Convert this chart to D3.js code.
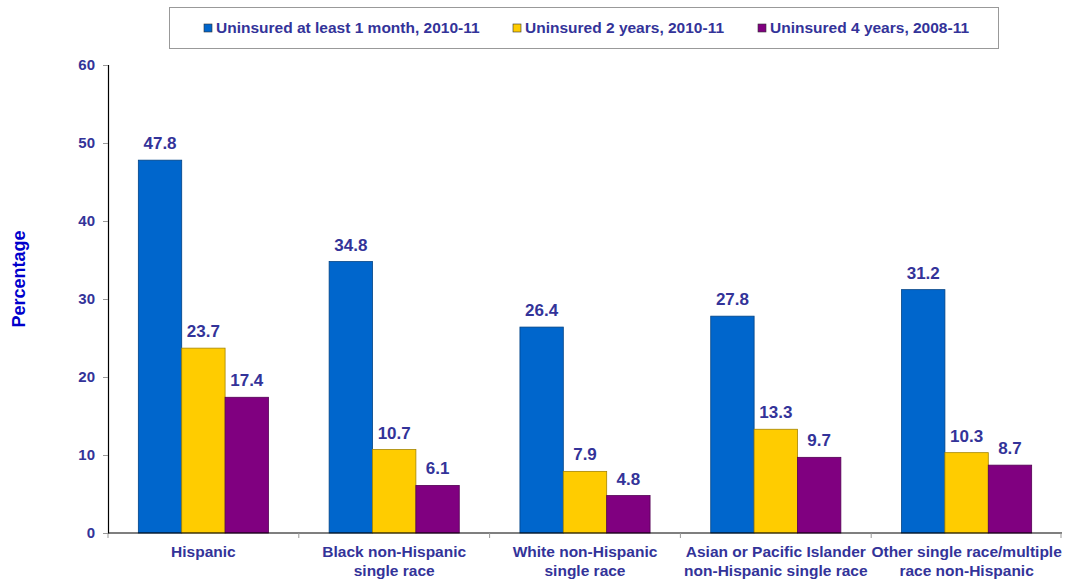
<!DOCTYPE html>
<html>
<head>
<meta charset="utf-8">
<script src="https://cdn.jsdelivr.net/npm/d3@7"></script>
<style>
  body { margin: 0; background: #fff; }
  svg { display: block; font-family: "Liberation Sans", Arial, sans-serif; font-weight: bold; }
</style>
</head>
<body>
<div id="chart"></div>
<script>
const categories = [
    ['Hispanic'],
    ['Black non-Hispanic', 'single race'],
    ['White non-Hispanic', 'single race'],
    ['Asian or Pacific Islander', 'non-Hispanic single race'],
    ['Other single race/multiple', 'race non-Hispanic']
]
const seriesNames = ['Uninsured at least 1 month, 2010-11', 'Uninsured 2 years, 2010-11', 'Uninsured 4 years, 2008-11']
const seriesColors = ['#0066CC', '#FFCC00', '#800080']
const month1 = [47.8, 34.8, 26.4, 27.8, 31.2]
const years2 = [23.7, 10.7, 7.9, 13.3, 10.3]
const years4 = [17.4, 6.1, 4.8, 9.7, 8.7]
const yTicks = [0, 10, 20, 30, 40, 50, 60]

const width = 1068, height = 579
const margin = {top: 65, right: 6, bottom: 46, left: 108}
const textColor = '#333399'

const svg = d3.select('#chart').append('svg')
    .attr('width', width)
    .attr('height', height)

const x = d3.scaleBand()
    .domain(d3.range(categories.length))
    .range([margin.left, width - margin.right])
    .paddingInner(0.318)
    .paddingOuter(0.159)

const step = x.step()
const xSub = d3.scaleBand()
    .domain(d3.range(seriesNames.length))
    .range([0, x.bandwidth()])

const y = d3.scaleLinear()
    .domain([0, 60])
    .range([height - margin.bottom, margin.top])

const series = [month1, years2, years4]

//-------------------------------------------------------------
// bars
const groups = svg.selectAll('g.group')
    .data(categories)
    .enter()
        .append('g')
        .attr('class', 'group')
        .attr('transform', (d, i) => `translate(${x(i)},0)`)

series.forEach((vals, s) => {
    groups.append('rect')
        .attr('x', xSub(s))
        .attr('y', (d, i) => y(vals[i]))
        .attr('width', xSub.bandwidth())
        .attr('height', (d, i) => y(0) - y(vals[i]))
        .style('fill', seriesColors[s])
        .style('stroke', d3.rgb(seriesColors[s]).darker(1.2))
        .style('stroke-width', 0.8)

    groups.append('text')
        .attr('x', xSub(s) + xSub.bandwidth() / 2)
        .attr('y', (d, i) => y(vals[i]) - 11)
        .attr('text-anchor', 'middle')
        .style('fill', textColor)
        .style('font-size', '17px')
        .text((d, i) => vals[i].toFixed(1))
})

//-------------------------------------------------------------
// axes
const yAxis = svg.append('g')
    .attr('transform', `translate(${margin.left},0)`)
    .call(d3.axisLeft(y).tickValues(yTicks).tickSize(5).tickPadding(8))
yAxis.select('.domain').attr('stroke', '#000').attr('stroke-width', 1.2)
yAxis.selectAll('.tick line').attr('stroke', '#999')
yAxis.selectAll('.tick text')
    .style('fill', textColor)
    .style('font-size', '15px')
    .style('font-family', '"Liberation Sans", Arial, sans-serif')
    .style('font-weight', 'bold')

const xAxis = svg.append('g')
    .attr('transform', `translate(0,${y(0)})`)
xAxis.append('line')
    .attr('x1', margin.left)
    .attr('x2', width - margin.right)
    .attr('stroke', '#000')
    .attr('stroke-width', 1.2)
xAxis.selectAll('line.sep')
    .data(d3.range(categories.length + 1))
    .enter()
        .append('line')
        .attr('class', 'sep')
        .attr('x1', i => margin.left + i * step - (i === categories.length ? 1 : 0))
        .attr('x2', i => margin.left + i * step - (i === categories.length ? 1 : 0))
        .attr('y1', 0)
        .attr('y2', 5)
        .attr('stroke', '#999')

const labels = xAxis.selectAll('text.cat')
    .data(categories)
    .enter()
        .append('text')
        .attr('class', 'cat')
        .attr('text-anchor', 'middle')
        .attr('transform', (d, i) => `translate(${x(i) + x.bandwidth() / 2},24)`)
        .style('fill', textColor)
        .style('font-size', '15.5px')

labels.selectAll('tspan')
    .data(d => d)
    .enter()
        .append('tspan')
        .attr('x', 0)
        .attr('dy', (d, i) => i === 0 ? 0 : 19)
        .text(d => d)

svg.append('text')
    .attr('transform', `translate(25,${(y(0) + y(60)) / 2 - 20})rotate(-90)`)
    .attr('text-anchor', 'middle')
    .style('fill', '#0000CC')
    .style('font-size', '18px')
    .text('Percentage')

//-------------------------------------------------------------
// legend
const legend = svg.append('g')
legend.append('rect')
    .attr('x', 169.5)
    .attr('y', 7.5)
    .attr('width', 829)
    .attr('height', 41)
    .style('fill', '#fff')
    .style('stroke', '#999')

const legendX = [204, 513, 758]
const items = legend.selectAll('g.item')
    .data(seriesNames)
    .enter()
        .append('g')
        .attr('class', 'item')
        .attr('transform', (d, i) => `translate(${legendX[i]},28)`)

items.append('rect')
    .attr('x', 0)
    .attr('y', -4)
    .attr('width', 8)
    .attr('height', 8)
    .style('fill', (d, i) => seriesColors[i])
    .style('stroke', '#333')
    .style('stroke-width', 0.6)

items.append('text')
    .attr('x', 12)
    .attr('y', 5)
    .style('fill', textColor)
    .style('font-size', '15.5px')
    .text(d => d)
</script>
</body>
</html>
